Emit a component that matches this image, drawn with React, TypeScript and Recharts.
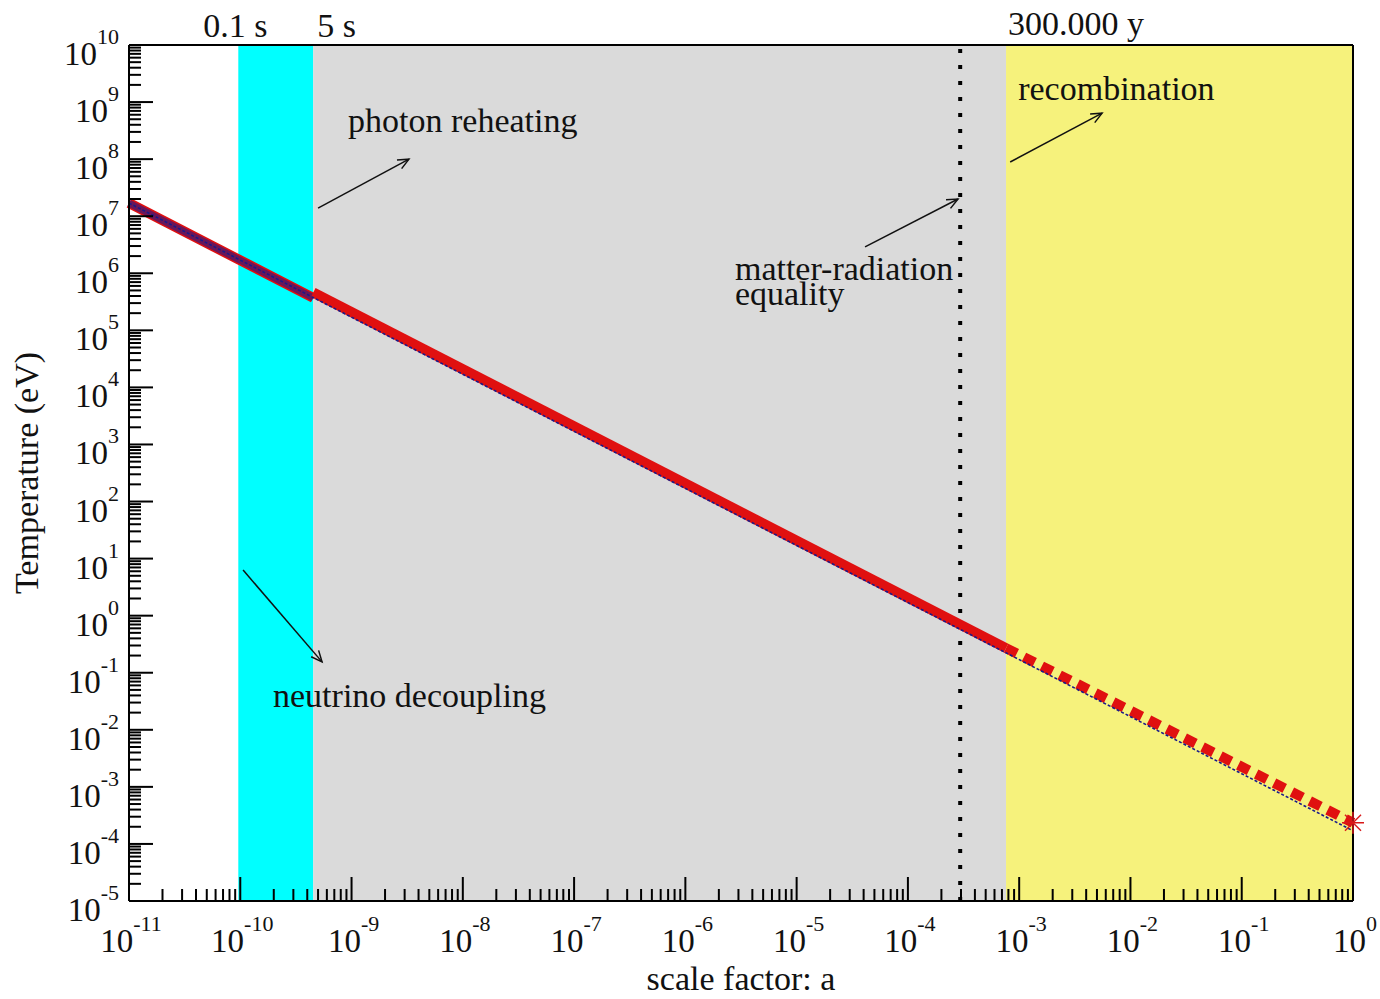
import React from "react";
import {
  ComposedChart,
  Line,
  Scatter,
  XAxis,
  YAxis,
  ReferenceArea,
  ReferenceLine,
  ReferenceDot,
} from "recharts";

const FONT = '"Liberation Serif", "Times New Roman", serif';

// decade exponents shown on each axis
const X_DECADES = [-11, -10, -9, -8, -7, -6, -5, -4, -3, -2, -1, 0];
const Y_DECADES = [-5, -4, -3, -2, -1, 0, 1, 2, 3, 4, 5, 6, 7, 8, 9, 10];
const MINOR_STEPS = [2, 3, 4, 5, 6, 7, 8, 9];

// neutrino temperature (thin dashed)
const NU_A = [1e-11, 1];
const NU_T = [1.7e7, 1.7e-4];
// photons still sharing the neutrino temperature
const COUPLED_A = [1e-11, 4.53e-10];
const COUPLED_T = [1.7e7, 3.7e5];
// photon temperature after reheating
const PHOTON_A = [4.53e-10, 7.62e-4];
const PHOTON_T = [4.6e5, 0.27];
// photon temperature after recombination
const FREE_A = [7.62e-4, 1];
const FREE_T = [0.27, 2.35e-4];
// today
const TODAY_A = [1];
const TODAY_T = [2.35e-4];

// epochs
const DECOUPLING_A = 9.6e-11; // 0.1 s
const REHEAT_A = 4.53e-10; // 5 s
const EQUALITY_A = 2.95e-4;
const RECOMB_A = 7.62e-4; // 300.000 y

const A_MIN = 1e-11;
const A_MAX = 1;
const T_MIN = 1e-5;
const T_MAX = 1e10;

const zip = (a: number[], t: number[]) => a.map((v, i) => ({ a: v, T: t[i] }));

const logTicks = (decades: number[]) => {
  const out: number[] = [];
  decades.forEach((e, i) => {
    out.push(Number(`1e${e}`));
    if (i < decades.length - 1) MINOR_STEPS.forEach((m) => out.push(Number(`${m}e${e}`)));
  });
  return out;
};

const X_TICKS = logTicks(X_DECADES);
const Y_TICKS = logTicks(Y_DECADES);

const exponent = (v: number) => Math.round(Math.log10(v));
const isMajor = (v: number) => {
  const e = Math.log10(v);
  return Math.abs(e - Math.round(e)) < 1e-6;
};

const MAJOR = 24;
const MINOR = 12;
const FS = 34;

const Power = ({ x, y, exp, anchor }: any) => (
  <text x={x} y={y} textAnchor={anchor} fontFamily={FONT} fontSize={33} fill="#111">
    10
    <tspan dy={-21} fontSize={22}>
      {exp}
    </tspan>
  </text>
);

const BottomTick = ({ x, y, payload }: any) => {
  const major = isMajor(payload.value);
  return (
    <g>
      <line x1={x} x2={x} y1={y} y2={y - (major ? MAJOR : MINOR)} stroke="#000" strokeWidth={2} />
      {major && <Power x={x + 2} y={y + 51} exp={exponent(payload.value)} anchor="middle" />}
    </g>
  );
};

const TopTick = ({ x, y, payload }: any) => {
  const major = isMajor(payload.value);
  return <line x1={x} x2={x} y1={y} y2={y + (major ? MAJOR : MINOR)} stroke="#000" strokeWidth={2} />;
};

const LeftTick = ({ x, y, payload }: any) => {
  const major = isMajor(payload.value);
  return (
    <g>
      <line x1={x} x2={x + (major ? MAJOR : MINOR)} y1={y} y2={y} stroke="#000" strokeWidth={2} />
      {major && <Power x={x - 10} y={y + 20} exp={exponent(payload.value)} anchor="end" />}
    </g>
  );
};

const RightTick = ({ x, y, payload }: any) => {
  const major = isMajor(payload.value);
  return <line x1={x} x2={x - (major ? MAJOR : MINOR)} y1={y} y2={y} stroke="#000" strokeWidth={2} />;
};

const XTitle = ({ viewBox }: any) => (
  <text
    x={viewBox.x + viewBox.width / 2}
    y={viewBox.y + 89}
    textAnchor="middle"
    fontFamily={FONT}
    fontSize={FS}
    fill="#111"
  >
    scale factor: a
  </text>
);

const YTitle = ({ viewBox }: any) => {
  const x = viewBox.x + viewBox.width - 91;
  const y = viewBox.y + viewBox.height / 2;
  return (
    <text
      x={x}
      y={y}
      transform={`rotate(-90, ${x}, ${y})`}
      textAnchor="middle"
      fontFamily={FONT}
      fontSize={FS}
      fill="#111"
    >
      Temperature (eV)
    </text>
  );
};

// arrow with an open head at the second point
const Arrow = ({ x1, y1, x2, y2 }: any) => {
  const ang = Math.atan2(y2 - y1, x2 - x1);
  const len = 12;
  const spread = 0.42;
  const p1 = `${x2 - len * Math.cos(ang - spread)},${y2 - len * Math.sin(ang - spread)}`;
  const p2 = `${x2 - len * Math.cos(ang + spread)},${y2 - len * Math.sin(ang + spread)}`;
  return (
    <g stroke="#111" strokeWidth={1.5} fill="none">
      <line x1={x1} y1={y1} x2={x2} y2={y2} />
      <polyline points={`${p1} ${x2},${y2} ${p2}`} />
    </g>
  );
};

const note =
  (lines: string[], anchor = "start", dx = 0, dy = 0) =>
  ({ cx, cy }: any) =>
    (
      <text x={cx + dx} y={cy + dy} textAnchor={anchor} fontFamily={FONT} fontSize={FS} fill="#111">
        {lines.map((s, i) => (
          <tspan key={s} x={cx + dx} dy={i === 0 ? 0 : 25}>
            {s}
          </tspan>
        ))}
      </text>
    );

const Star = ({ cx, cy }: any) => (
  <g stroke="#d81818" strokeWidth={1.5}>
    <line x1={cx - 11} x2={cx + 11} y1={cy} y2={cy} />
    <line x1={cx} x2={cx} y1={cy - 11} y2={cy + 11} />
    <line x1={cx - 8} x2={cx + 8} y1={cy - 8} y2={cy + 8} />
    <line x1={cx - 8} x2={cx + 8} y1={cy + 8} y2={cy - 8} />
  </g>
);

const RED = "#e01010";
const NAVY = "#1a1a8a";

export default function App() {
  return (
    <div style={{ position: "absolute", left: 0, top: 0, width: 1380, height: 999, background: "#fff" }}>
      <ComposedChart width={1380} height={999} margin={{ top: 0, right: 0, bottom: 0, left: 0 }}>
        <ReferenceArea x1={DECOUPLING_A} x2={REHEAT_A} y1={T_MIN} y2={T_MAX} fill="#00ffff" fillOpacity={1} stroke="none" />
        <ReferenceArea x1={REHEAT_A} x2={RECOMB_A} y1={T_MIN} y2={T_MAX} fill="#dadada" fillOpacity={1} stroke="none" />
        <ReferenceArea x1={RECOMB_A} x2={A_MAX} y1={T_MIN} y2={T_MAX} fill="#f6f27c" fillOpacity={1} stroke="none" />

        <ReferenceLine x={EQUALITY_A} stroke="#000" strokeWidth={4} strokeDasharray="4 12" />

        <Line data={zip(COUPLED_A, COUPLED_T)} dataKey="T" stroke={RED} strokeWidth={10} dot={false} activeDot={false} isAnimationActive={false} />
        <Line data={zip(COUPLED_A, COUPLED_T)} dataKey="T" stroke={NAVY} strokeOpacity={0.6} strokeWidth={7} dot={false} activeDot={false} isAnimationActive={false} />
        <Line data={zip(PHOTON_A, PHOTON_T)} dataKey="T" stroke={RED} strokeWidth={10} dot={false} activeDot={false} isAnimationActive={false} />
        <Line data={zip(FREE_A, FREE_T)} dataKey="T" stroke={RED} strokeWidth={10} strokeDasharray="12 8" dot={false} activeDot={false} isAnimationActive={false} />
        <Line data={zip(NU_A, NU_T)} dataKey="T" stroke={NAVY} strokeWidth={1.6} strokeDasharray="3 2" dot={false} activeDot={false} isAnimationActive={false} />
        <Scatter data={zip(TODAY_A, TODAY_T)} shape={Star} isAnimationActive={false} />

        <ReferenceLine segment={[{ x: 5.0e-10, y: 1.39e7 }, { x: 3.28e-9, y: 1.0e8 }]} shape={Arrow} />
        <ReferenceLine segment={[{ x: 4.12e-5, y: 2.9e6 }, { x: 2.82e-4, y: 2.0e7 }]} shape={Arrow} />
        <ReferenceLine segment={[{ x: 8.3e-4, y: 8.9e7 }, { x: 5.56e-3, y: 6.4e8 }]} shape={Arrow} />
        <ReferenceLine segment={[{ x: 1.06e-10, y: 6.3 }, { x: 5.43e-10, y: 0.155 }]} shape={Arrow} />

        <ReferenceDot x={9.3e-10} y={3.0e8} shape={note(["photon reheating"])} />
        <ReferenceDot x={2.79e-6} y={7.6e5} shape={note(["matter-radiation", "equality"])} />
        <ReferenceDot x={9.8e-4} y={1.09e9} shape={note(["recombination"])} />
        <ReferenceDot x={1.97e-10} y={0.025} shape={note(["neutrino decoupling"])} />

        <ReferenceDot x={DECOUPLING_A} y={T_MAX} shape={note(["0.1 s"], "middle", -3, -8)} />
        <ReferenceDot x={REHEAT_A} y={T_MAX} shape={note(["5 s"], "start", 4, -8)} />
        <ReferenceDot x={RECOMB_A} y={T_MAX} shape={note(["300.000 y"], "start", 2, -10)} />

        <XAxis
          dataKey="a"
          type="number"
          scale="log"
          domain={[A_MIN, A_MAX]}
          ticks={X_TICKS}
          interval={0}
          tick={<BottomTick />}
          tickLine={false}
          tickSize={0}
          tickMargin={0}
          height={98}
          axisLine={{ stroke: "#000", strokeWidth: 2 }}
          label={XTitle}
        />
        <XAxis
          xAxisId="top"
          orientation="top"
          dataKey="a"
          type="number"
          scale="log"
          domain={[A_MIN, A_MAX]}
          ticks={X_TICKS}
          interval={0}
          tick={<TopTick />}
          tickLine={false}
          tickSize={0}
          tickMargin={0}
          height={45}
          axisLine={{ stroke: "#000", strokeWidth: 2 }}
        />
        <YAxis
          dataKey="T"
          type="number"
          scale="log"
          domain={[T_MIN, T_MAX]}
          ticks={Y_TICKS}
          interval={0}
          tick={<LeftTick />}
          tickLine={false}
          tickSize={0}
          tickMargin={0}
          width={129}
          axisLine={{ stroke: "#000", strokeWidth: 2 }}
          label={YTitle}
        />
        <YAxis
          yAxisId="right"
          orientation="right"
          dataKey="T"
          type="number"
          scale="log"
          domain={[T_MIN, T_MAX]}
          ticks={Y_TICKS}
          interval={0}
          tick={<RightTick />}
          tickLine={false}
          tickSize={0}
          tickMargin={0}
          width={27}
          axisLine={{ stroke: "#000", strokeWidth: 2 }}
        />
      </ComposedChart>
    </div>
  );
}
